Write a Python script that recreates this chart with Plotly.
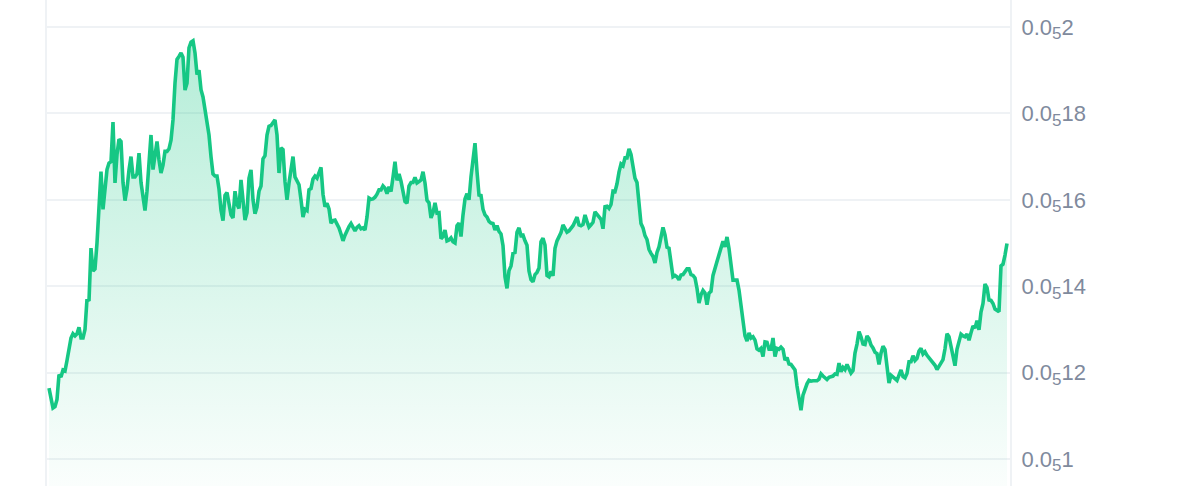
import plotly.graph_objects as go

# Price in millionths (value x 1e-6), one sample per step
price_micro = [
    # segment 1
    1.164, 1.135, 1.118, 1.121, 1.138, 1.195, 1.190, 1.206, 1.204, 1.228,
    1.254, 1.280, 1.290, 1.285, 1.290, 1.305, 1.280, 1.280, 1.300, 1.370,
    1.366, 1.488, 1.435, 1.440, 1.500, 1.590, 1.665, 1.578, 1.620, 1.670,
    1.685, 1.688, 1.780, 1.639, 1.705, 1.740, 1.735, 1.640, 1.598, 1.625,
    1.669, 1.700, 1.653, 1.653, 1.660, 1.708, 1.640, 1.600, 1.575, 1.620,
    1.690, 1.750, 1.670, 1.705, 1.735, 1.692, 1.662, 1.680, 1.712, 1.712,
    1.718, 1.738, 1.785, 1.870, 1.925, 1.932, 1.940, 1.930, 1.854, 1.870,
    1.952, 1.965, 1.968, 1.940, 1.890, 1.900, 1.855, 1.838, 1.808, 1.778,
    # segment 2
    1.750, 1.700, 1.660, 1.655, 1.655, 1.625, 1.576, 1.552, 1.610, 1.617,
    1.594, 1.565, 1.558, 1.620, 1.590, 1.580, 1.646, 1.588, 1.553, 1.570,
    1.650, 1.669, 1.600, 1.568, 1.583, 1.620, 1.632, 1.695, 1.702, 1.750,
    1.770, 1.772, 1.778, 1.785, 1.750, 1.662, 1.720, 1.716, 1.642, 1.600,
    1.639, 1.677, 1.700, 1.653, 1.644, 1.635, 1.600, 1.560, 1.578, 1.575,
    1.623, 1.626, 1.648, 1.655, 1.650, 1.665, 1.675, 1.613, 1.584, 1.592,
    1.579, 1.546, 1.552, 1.553, 1.545, 1.535, 1.521, 1.505, 1.518, 1.530,
    1.538, 1.545, 1.537, 1.528, 1.536, 1.540, 1.533, 1.535, 1.530, 1.560,
    # segment 3
    1.604, 1.601, 1.602, 1.606, 1.613, 1.623, 1.623, 1.632, 1.627, 1.614,
    1.630, 1.619, 1.652, 1.688, 1.645, 1.660, 1.643, 1.620, 1.596, 1.592,
    1.632, 1.640, 1.640, 1.652, 1.639, 1.642, 1.646, 1.665, 1.639, 1.599,
    1.593, 1.558, 1.570, 1.593, 1.569, 1.570, 1.510, 1.515, 1.530, 1.505,
    1.507, 1.512, 1.503, 1.500, 1.540, 1.546, 1.515, 1.565, 1.602, 1.614,
    1.600, 1.653, 1.692, 1.731, 1.665, 1.611, 1.610, 1.578, 1.565, 1.560,
    1.550, 1.546, 1.545, 1.530, 1.540, 1.527, 1.521, 1.494, 1.422, 1.395,
    1.436, 1.447, 1.476, 1.478, 1.525, 1.535, 1.517, 1.518, 1.505, 1.495,
    # segment 4
    1.435, 1.415, 1.410, 1.427, 1.432, 1.442, 1.503, 1.511, 1.495, 1.425,
    1.422, 1.434, 1.424, 1.488, 1.505, 1.516, 1.524, 1.542, 1.531, 1.525,
    1.528, 1.534, 1.540, 1.550, 1.560, 1.542, 1.540, 1.543, 1.565, 1.550,
    1.537, 1.542, 1.548, 1.572, 1.566, 1.563, 1.555, 1.533, 1.584, 1.585,
    1.580, 1.589, 1.620, 1.619, 1.637, 1.664, 1.683, 1.679, 1.697, 1.697,
    1.718, 1.705, 1.670, 1.650, 1.640, 1.600, 1.545, 1.535, 1.517, 1.508,
    1.485, 1.476, 1.469, 1.454, 1.478, 1.491, 1.517, 1.536, 1.519, 1.490,
    1.488, 1.460, 1.422, 1.425, 1.422, 1.415, 1.426, 1.427, 1.434, 1.440,
    # segment 5
    1.440, 1.427, 1.425, 1.419, 1.395, 1.361, 1.380, 1.390, 1.384, 1.357,
    1.384, 1.388, 1.425, 1.445, 1.457, 1.473, 1.486, 1.504, 1.491, 1.514,
    1.487, 1.448, 1.414, 1.414, 1.414, 1.391, 1.350, 1.315, 1.285, 1.273,
    1.292, 1.280, 1.283, 1.275, 1.255, 1.252, 1.256, 1.237, 1.271, 1.270,
    1.254, 1.254, 1.280, 1.237, 1.256, 1.254, 1.259, 1.254, 1.229, 1.235,
    1.220, 1.219, 1.213, 1.206, 1.169, 1.146, 1.113, 1.148, 1.163, 1.174,
    1.182, 1.180, 1.181, 1.181, 1.181, 1.185, 1.197, 1.192, 1.188, 1.184,
    1.189, 1.190, 1.192, 1.197, 1.196, 1.222, 1.202, 1.212, 1.207, 1.219,
    # segment 6
    1.210, 1.199, 1.205, 1.245, 1.266, 1.295, 1.283, 1.266, 1.265, 1.285,
    1.278, 1.264, 1.257, 1.247, 1.244, 1.219, 1.245, 1.261, 1.253, 1.213,
    1.176, 1.194, 1.189, 1.184, 1.182, 1.194, 1.206, 1.191, 1.188, 1.198,
    1.225, 1.225, 1.239, 1.228, 1.233, 1.250, 1.256, 1.243, 1.248, 1.240,
    1.234, 1.229, 1.224, 1.217, 1.207, 1.216, 1.222, 1.230, 1.255, 1.290,
    1.283, 1.260, 1.230, 1.216, 1.254, 1.275, 1.289, 1.285, 1.283, 1.289,
    1.275, 1.292, 1.308, 1.303, 1.320, 1.299, 1.340, 1.360, 1.405, 1.397,
    1.368, 1.367, 1.360, 1.347, 1.345, 1.341, 1.447, 1.451, 1.472, 1.499,
]

tick_values = [1.0, 1.2, 1.4, 1.6, 1.8, 2.0]
tick_digits = ["1", "12", "14", "16", "18", "2"]
tick_labels = [
    "0.0<sub><span style='font-size:17px'>5</span></sub>" + d for d in tick_digits
]

steps = list(range(len(price_micro)))

fig = go.Figure()
fig.add_trace(go.Scatter(
    x=steps,
    y=price_micro,
    mode="lines",
    line=dict(color="#16c784", width=3.6),
    fill="tozeroy",
    fillgradient=dict(
        type="vertical",
        start=0.9375,
        stop=1.97,
        colorscale=[[0, "rgba(22,199,132,0.02)"], [1, "rgba(22,199,132,0.32)"]],
    ),
    hoverinfo="skip",
))

fig.update_layout(
    width=1200,
    height=486,
    margin=dict(l=47, r=190, t=0, b=0),
    paper_bgcolor="white",
    plot_bgcolor="white",
    showlegend=False,
    hovermode=False,
    xaxis=dict(
        range=[-1, len(price_micro) + 0.5],
        showgrid=False,
        zeroline=False,
        showticklabels=False,
        showline=False,
    ),
    yaxis=dict(
        side="right",
        range=[0.9375, 2.0625],
        tickvals=tick_values,
        ticktext=tick_labels,
        showgrid=True,
        gridcolor="#eff2f5",
        gridwidth=2,
        zeroline=False,
        showline=True,
        mirror=True,
        linecolor="#eff2f5",
        linewidth=2,
        ticks="",
        ticklabelstandoff=5,
        tickfont=dict(family="Liberation Sans, Arial, sans-serif", size=22, color="#808a9d"),
    ),
)

fig.write_html(
    "out.html",
    config={"displayModeBar": False},
    post_script="document.body.style.margin='0';document.body.style.padding='0';",
)
